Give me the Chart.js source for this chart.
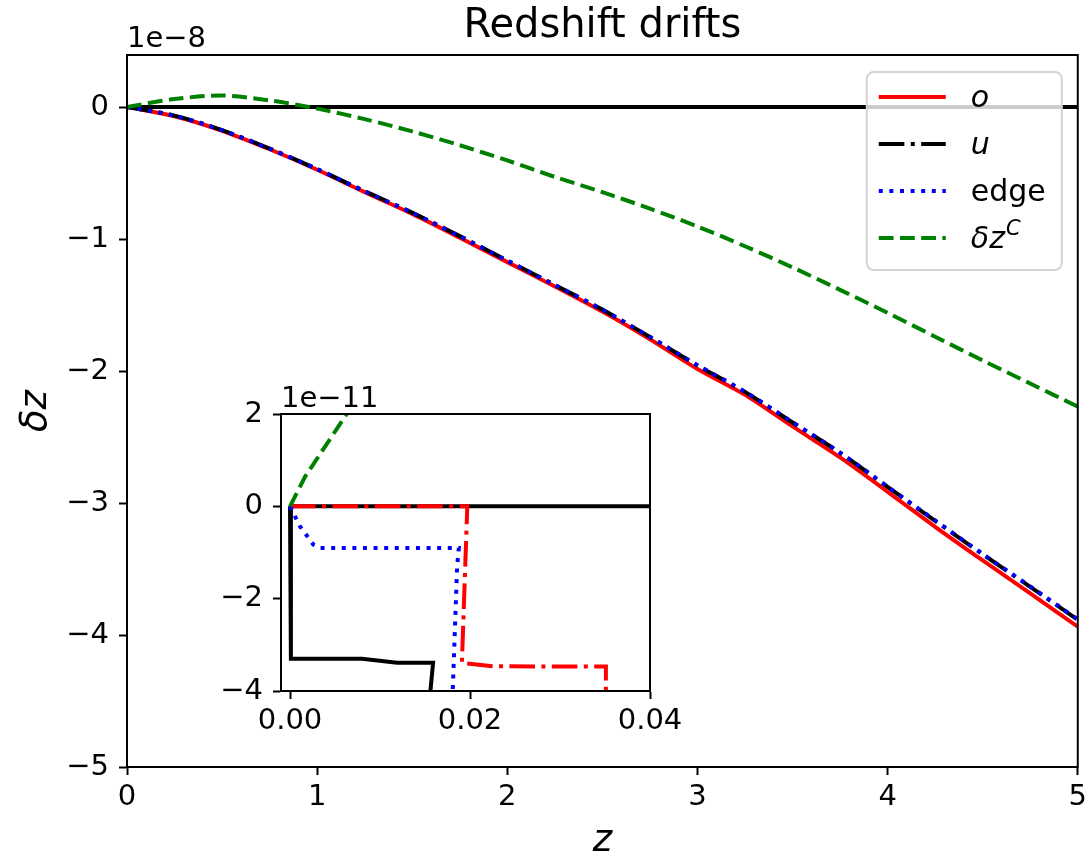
<!DOCTYPE html>
<html>
<head>
<meta charset="utf-8">
<title>Redshift drifts</title>
<script src="https://cdn.jsdelivr.net/npm/chart.js@4/dist/chart.umd.min.js"></script>
<style>
  body { margin: 0; background: #ffffff; }
  #wrap { position: relative; width: 1092px; height: 855px; }
  #mainChart { position: absolute; left: 0; top: 0; }
  #insetChart { position: absolute; left: 200px; top: 370px; }
</style>
</head>
<body>
<div id="wrap">
  <canvas id="mainChart" width="1092" height="855"></canvas>
  <canvas id="insetChart" width="500" height="380"></canvas>
</div>
<script>
// Main panel: drift values in units of 1e-8
const zGrid = [0, 0.25, 0.5, 0.75, 1, 1.25, 1.5, 1.75, 2, 2.25, 2.5, 2.75, 3, 3.25, 3.5, 3.75, 4, 4.25, 4.5, 4.75, 5];
const driftO = [0, -0.07, -0.18, -0.32, -0.475, -0.645, -0.81, -0.99, -1.175, -1.36, -1.55, -1.76, -1.985, -2.18, -2.42, -2.655, -2.915, -3.18, -3.435, -3.685, -3.937];
const driftU = [0, -0.065, -0.175, -0.315, -0.47, -0.638, -0.8, -0.978, -1.163, -1.348, -1.535, -1.742, -1.958, -2.158, -2.39, -2.62, -2.878, -3.135, -3.388, -3.635, -3.885];
const driftEdge = [0, -0.066, -0.176, -0.316, -0.47, -0.639, -0.801, -0.979, -1.164, -1.348, -1.536, -1.741, -1.956, -2.157, -2.388, -2.618, -2.876, -3.132, -3.386, -3.632, -3.882];
const driftC = [0, 0.06, 0.087, 0.05, -0.012, -0.092, -0.185, -0.29, -0.405, -0.53, -0.645, -0.77, -0.905, -1.055, -1.215, -1.385, -1.56, -1.74, -1.92, -2.095, -2.27];
const zeroX = [0, 5];
const zeroY = [0, 0];
const xTicks = [0, 1, 2, 3, 4, 5];
const yTicks = [-5, -4, -3, -2, -1, 0];

// Inset: values in units of 1e-11
const inZeroX = [0, 0.04];
const inZeroY = [0, 0];
const inBlackX = [0, 0.0001, 0.008, 0.0119, 0.0159, 0.0156];
const inBlackY = [0, -3.3, -3.3, -3.39, -3.39, -4.0];
const inRedX = [0, 0.0197, 0.0191, 0.0226, 0.0351, 0.0351];
const inRedY = [0, 0, -3.39, -3.465, -3.47, -4.0];
const inBlueX = [0, 0.0011, 0.0026, 0.0033, 0.01876, 0.01857, 0.01808];
const inBlueY = [0, -0.43, -0.83, -0.9, -0.9, -1.3, -4.0];
const inGreenX = [0, 0.0017, 0.0063];
const inGreenY = [0, 0.65, 2.0];
const inXTicks = [0, 0.02, 0.04];
const inYTicks = [-4, -2, 0, 2];

const legendOrder = ['o', 'u', 'edge', 'dzC'];

const FONT = '"DejaVu Sans", sans-serif';
const TICK_SIZE = 29;
Chart.defaults.font.family = FONT;
Chart.defaults.font.size = TICK_SIZE;
Chart.defaults.color = '#000';

function pts(xs, ys) {
    return xs.map((x, i) => ({ x: x, y: ys[i] }));
}

function minusFmt(v) {
    return v < 0 ? '\u2212' + Math.abs(v) : String(v);
}

// line styles (matplotlib-like dash patterns, scaled by line width)
const LW = 4;
const DASHED = [14.8, 6.4];
const DOTTED = [4, 6.6];
const DASHDOT = [25.6, 6.4, 4, 6.4];

function axisOpts(ticks, min, max, fmt, size, isX) {
    return {
        type: 'linear',
        min: min,
        max: max,
        afterBuildTicks: function(scale) {
            scale.ticks = ticks.map(v => ({ value: v }));
        },
        afterFit: function(scale) {
            if (isX) scale.height = size; else scale.width = size;
        },
        grid: {
            drawOnChartArea: false,
            drawTicks: true,
            tickLength: 8,
            tickWidth: 2,
            tickColor: '#000'
        },
        border: { display: true, color: '#000', width: 2 },
        ticks: {
            color: '#000',
            padding: isX ? 5 : 10,
            font: { size: TICK_SIZE },
            maxRotation: 0,
            autoSkip: false,
            callback: fmt
        }
    };
}

// Legend drawn inside the axes, upper right, like matplotlib
function drawLegend(chart) {
    const { ctx, chartArea: a } = chart;
    const right = a.right - 16, top = a.top + 17;
    const w = 195, h = 198, r = 7;
    const left = right - w;
    ctx.save();
    ctx.beginPath();
    ctx.moveTo(left + r, top);
    ctx.arcTo(right, top, right, top + h, r);
    ctx.arcTo(right, top + h, left, top + h, r);
    ctx.arcTo(left, top + h, left, top, r);
    ctx.arcTo(left, top, right, top, r);
    ctx.closePath();
    ctx.fillStyle = 'rgba(255,255,255,0.8)';
    ctx.fill();
    ctx.strokeStyle = '#d4d4d4';
    ctx.lineWidth = 2;
    ctx.stroke();

    legendOrder.forEach((key, i) => {
        const ds = chart.data.datasets.find(d => d.key === key);
        const y = top + 25 + i * 47;
        ctx.beginPath();
        ctx.setLineDash(ds.borderDash || []);
        ctx.strokeStyle = ds.borderColor;
        ctx.lineWidth = ds.borderWidth;
        ctx.moveTo(left + 12, y);
        ctx.lineTo(left + 79, y);
        ctx.stroke();
        ctx.setLineDash([]);

        ctx.fillStyle = '#000';
        ctx.textAlign = 'left';
        ctx.textBaseline = 'alphabetic';
        const tx = left + 104, ty = y + 10;
        if (key === 'dzC') {
            ctx.font = 'italic 30px ' + FONT;
            ctx.fillText('\u03b4z', tx, ty);
            const wz = ctx.measureText('\u03b4z').width;
            ctx.font = 'italic 21px ' + FONT;
            ctx.fillText('C', tx + wz + 1, ty - 13);
        } else if (key === 'edge') {
            ctx.font = '30px ' + FONT;
            ctx.fillText(ds.label, tx, ty);
        } else {
            ctx.font = 'italic 30px ' + FONT;
            ctx.fillText(ds.label, tx, ty);
        }
    });
    ctx.restore();
}

const mainDecor = {
    id: 'mainDecor',
    afterDraw(chart) {
        const { ctx, chartArea: a } = chart;
        ctx.save();
        ctx.strokeStyle = '#000';
        ctx.lineWidth = 2;
        ctx.strokeRect(a.left, a.top, a.right - a.left, a.bottom - a.top);

        ctx.fillStyle = '#000';
        ctx.textBaseline = 'alphabetic';
        ctx.textAlign = 'center';
        ctx.font = '40px ' + FONT;
        ctx.fillText('Redshift drifts', (a.left + a.right) / 2, 37);

        ctx.textAlign = 'left';
        ctx.font = TICK_SIZE + 'px ' + FONT;
        ctx.fillText('1e\u22128', a.left, 47);

        ctx.textAlign = 'center';
        ctx.font = 'italic 37px ' + FONT;
        ctx.fillText('z', (a.left + a.right) / 2, 851);

        ctx.translate(46, (a.top + a.bottom) / 2);
        ctx.rotate(-Math.PI / 2);
        ctx.fillText('\u03b4z', 0, 0);
        ctx.restore();

        drawLegend(chart);
    }
};

new Chart(document.getElementById('mainChart'), {
    type: 'line',
    data: {
        datasets: [
            { key: 'o', label: 'o', data: pts(zGrid, driftO), borderColor: '#ff0000', borderWidth: LW, order: 3 },
            { key: 'u', label: 'u', data: pts(zGrid, driftU), borderColor: '#000000', borderWidth: LW, borderDash: DASHDOT, order: 2 },
            { key: 'edge', label: 'edge', data: pts(zGrid, driftEdge), borderColor: '#0000ff', borderWidth: LW, borderDash: DOTTED, order: 1 },
            { key: 'dzC', label: '\u03b4z^C', data: pts(zGrid, driftC), borderColor: '#008000', borderWidth: LW, borderDash: DASHED, order: 0 },
            { key: 'zero', label: 'zero', data: pts(zeroX, zeroY), borderColor: '#000000', borderWidth: LW, order: 5 }
        ]
    },
    options: {
        responsive: false,
        devicePixelRatio: 1,
        animation: false,
        elements: { point: { radius: 0 }, line: { tension: 0.3, borderCapStyle: 'butt' } },
        layout: { padding: { left: 0, right: 13, top: 55, bottom: 0 } },
        plugins: { legend: { display: false }, tooltip: { enabled: false } },
        scales: {
            x: axisOpts(xTicks, 0, 5, v => minusFmt(v), 88, true),
            y: axisOpts(yTicks, -5, 0.394, v => minusFmt(v), 127, false)
        }
    },
    plugins: [mainDecor]
});

const insetDecor = {
    id: 'insetDecor',
    beforeDraw(chart) {
        const { ctx, chartArea: a } = chart;
        ctx.save();
        ctx.fillStyle = '#ffffff';
        ctx.fillRect(a.left, a.top, a.right - a.left, a.bottom - a.top);
        ctx.restore();
    },
    afterDraw(chart) {
        const { ctx, chartArea: a } = chart;
        ctx.save();
        ctx.strokeStyle = '#000';
        ctx.lineWidth = 2;
        ctx.strokeRect(a.left, a.top, a.right - a.left, a.bottom - a.top);
        ctx.fillStyle = '#000';
        ctx.font = TICK_SIZE + 'px ' + FONT;
        ctx.textAlign = 'left';
        ctx.textBaseline = 'alphabetic';
        ctx.fillText('1e\u221211', a.left, a.top - 7);
        ctx.restore();
    }
};

new Chart(document.getElementById('insetChart'), {
    type: 'line',
    data: {
        datasets: [
            { label: 'edge', data: pts(inBlueX, inBlueY), borderColor: '#0000ff', borderWidth: LW, borderDash: DOTTED, order: 1 },
            { label: 'o', data: pts(inRedX, inRedY), borderColor: '#ff0000', borderWidth: LW, borderDash: DASHDOT, order: 2 },
            { label: 'u', data: pts(inBlackX, inBlackY), borderColor: '#000000', borderWidth: LW, order: 3 },
            { label: 'dzC', data: pts(inGreenX, inGreenY), borderColor: '#008000', borderWidth: LW, borderDash: DASHED, order: 0 },
            { label: 'zero', data: pts(inZeroX, inZeroY), borderColor: '#000000', borderWidth: LW, order: 5 }
        ]
    },
    options: {
        responsive: false,
        devicePixelRatio: 1,
        animation: false,
        elements: { point: { radius: 0 }, line: { tension: 0, borderCapStyle: 'butt' } },
        layout: { padding: { left: 0, right: 50, top: 44, bottom: 0 } },
        plugins: { legend: { display: false }, tooltip: { enabled: false } },
        scales: {
            x: axisOpts(inXTicks, -0.001, 0.04, v => v.toFixed(2), 59, true),
            y: axisOpts(inYTicks, -4, 2, v => minusFmt(v), 81, false)
        }
    },
    plugins: [insetDecor]
});
</script>
</body>
</html>
